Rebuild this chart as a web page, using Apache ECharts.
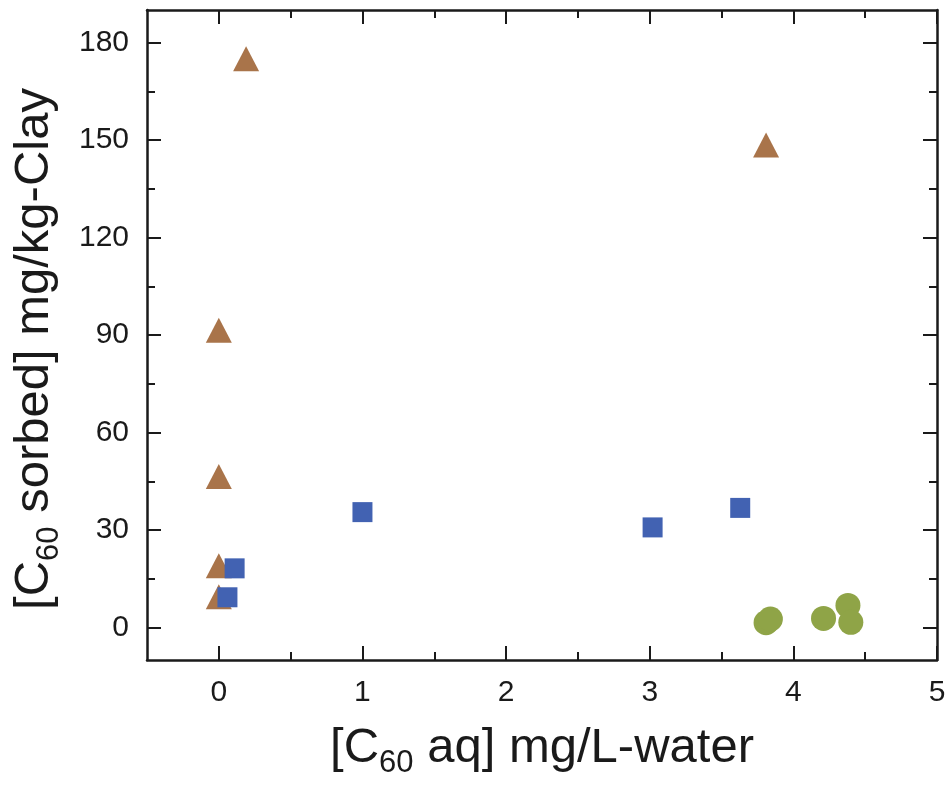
<!DOCTYPE html>
<html>
<head>
<meta charset="utf-8">
<script src="https://cdn.jsdelivr.net/npm/echarts@6/dist/echarts.min.js"></script>
<style>
  html, body { margin: 0; padding: 0; background: #fff; }
  #chart { width: 950px; height: 788px; }
</style>
</head>
<body>
<div id="chart"></div>
<script>
  // values
  const triangles = [[0.19, 175], [3.81, 148.5], [0, 91.5], [0, 46.5], [0, 19], [0, 9.5]];
  const squares = [[1.0, 35.5], [3.02, 30.8], [3.63, 36.8], [0.11, 18.2], [0.06, 9.3]];
  const circles = [[3.81, 1.5], [3.84, 2.6], [4.21, 2.8], [4.38, 6.8], [4.40, 1.6]];
  const xMajor = [0, 1, 2, 3, 4, 5];
  const xMinor = [0.5, 1.5, 2.5, 3.5, 4.5];
  const yMajor = [0, 30, 60, 90, 120, 150, 180];
  const yMinor = [15, 45, 75, 105, 135, 165];

  const font = "Liberation Sans, Arial, sans-serif";
  const ink = "#1a1a1a";
  const chart = echarts.init(document.getElementById("chart"));

  function xAxis(pos, ticks, len, labels, line) {
    return {
      type: "value", min: -0.5, max: 5, position: pos,
      axisLine: { show: line, onZero: false, lineStyle: { color: ink, width: 2.5 } },
      axisTick: { show: true, inside: true, length: len, customValues: ticks, lineStyle: { color: ink, width: 2 } },
      axisLabel: { show: labels, customValues: ticks, margin: 18, fontSize: 30, color: ink, fontFamily: font },
      splitLine: { show: false }
    };
  }
  function yAxis(pos, ticks, len, labels, line) {
    return {
      type: "value", min: -10, max: 190, position: pos,
      axisLine: { show: line, onZero: false, lineStyle: { color: ink, width: 2.5 } },
      axisTick: { show: true, inside: true, length: len, customValues: ticks, lineStyle: { color: ink, width: 2 } },
      axisLabel: { show: labels, customValues: ticks, margin: 18, fontSize: 30, color: ink, fontFamily: font },
      splitLine: { show: false }
    };
  }

  const xs = [
    xAxis("bottom", xMajor, 14, true, true),
    xAxis("bottom", xMinor, 8, false, false),
    xAxis("top", xMajor, 14, false, true),
    xAxis("top", xMinor, 8, false, false)
  ];
  const ys = [
    yAxis("left", yMajor, 14, true, true),
    yAxis("left", yMinor, 8, false, false),
    yAxis("right", yMajor, 14, false, true),
    yAxis("right", yMinor, 8, false, false)
  ];
  const titleRich = {
    m: { fontSize: 49, color: ink, fontFamily: font, lineHeight: 52 },
    s: { fontSize: 31, color: ink, fontFamily: font, lineHeight: 52, padding: [30, 0, 0, 0] }
  };
  xs[0].name = "{m|[C}{s|60}{m| aq] mg/L-water}";
  xs[0].nameLocation = "middle";
  xs[0].nameGap = 62;
  xs[0].nameTextStyle = { rich: titleRich };
  ys[0].name = "{m|[C}{s|60}{m| sorbed] mg/kg-Clay}";
  ys[0].nameLocation = "middle";
  ys[0].nameGap = 87;
  ys[0].nameTextStyle = { rich: titleRich, padding: [0, 28, 0, 0] };

  chart.setOption({
    animation: false,
    backgroundColor: "#fff",
    grid: { left: 147, right: 13, top: 10, bottom: 128, outerBoundsMode: "none", containLabel: false },
    xAxis: xs,
    yAxis: ys,
    series: [
      { name: "triangle", type: "scatter", data: triangles, symbol: "triangle", symbolSize: [26, 25], itemStyle: { color: "#a9744a", opacity: 1 } },
      { name: "square", type: "scatter", data: squares, symbol: "rect", symbolSize: 20, itemStyle: { color: "#4262b2", opacity: 1 } },
      { name: "circle", type: "scatter", data: circles, symbol: "circle", symbolSize: 25, itemStyle: { color: "#8fa447", opacity: 1 } }
    ]
  });
</script>
</body>
</html>
